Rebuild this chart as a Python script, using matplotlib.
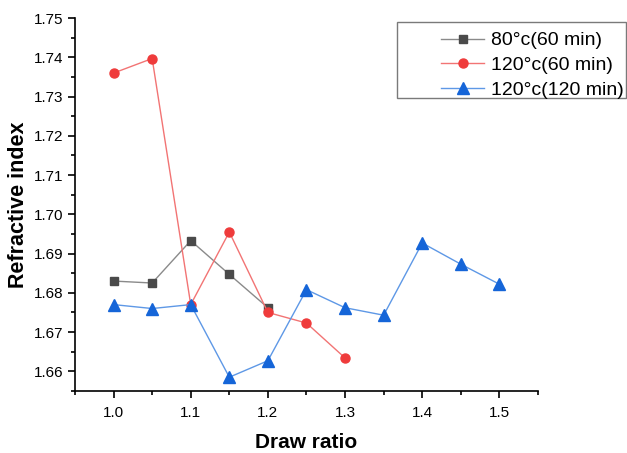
import matplotlib.pyplot as plt
from matplotlib.ticker import MultipleLocator
from matplotlib.patches import Rectangle

# Dados
ratio_80 = [1.0, 1.05, 1.1, 1.15, 1.2]
ri_80 = [1.6830, 1.6825, 1.6933, 1.6847, 1.6762]

ratio_120a = [1.0, 1.05, 1.1, 1.15, 1.2, 1.25, 1.3]
ri_120a = [1.7360, 1.7397, 1.6770, 1.6955, 1.6750, 1.6723, 1.6634]

ratio_120b = [1.0, 1.05, 1.1, 1.15, 1.2, 1.25, 1.3, 1.35, 1.4, 1.45, 1.5]
ri_120b = [1.6770, 1.6760, 1.6770, 1.6585, 1.6627, 1.6808, 1.6762, 1.6743,
           1.6927, 1.6873, 1.6822]

labels = ['80°c(60 min)', '120°c(60 min)', '120°c(120 min)']
x_ticks = [1.0, 1.1, 1.2, 1.3, 1.4, 1.5]
y_ticks = [1.66, 1.67, 1.68, 1.69, 1.70, 1.71, 1.72, 1.73, 1.74, 1.75]

plt.rcParams['font.family'] = ['Liberation Sans', 'DejaVu Sans']

fig = plt.figure(figsize=(6.27, 4.53), dpi=100)
ax = fig.add_axes([0.1196, 0.137, 0.7384, 0.823])

ax.plot(ratio_80, ri_80, color='#8a8a8a', lw=1, marker='s', ms=6,
        mfc='#4a4a4a', mec='#4a4a4a', label=labels[0])
ax.plot(ratio_120a, ri_120a, color='#f27474', lw=1, marker='o', ms=6.5,
        mfc='#ef3b3b', mec='#ef3b3b', label=labels[1])
ax.plot(ratio_120b, ri_120b, color='#5e98e6', lw=1, marker='^', ms=8,
        mfc='#1565d8', mec='#1565d8', label=labels[2])

ax.set_xlim(0.95, 1.55)
ax.set_ylim(1.655, 1.75)
ax.xaxis.set_minor_locator(MultipleLocator(0.05))
ax.yaxis.set_minor_locator(MultipleLocator(0.005))
ax.set_yticks(y_ticks)
ax.set_yticklabels(['%.2f' % v for v in y_ticks])
ax.set_xticks(x_ticks)
ax.set_xticklabels(['%.1f' % v for v in x_ticks])

for s in ['top', 'right']:
    ax.spines[s].set_visible(False)
for s in ['left', 'bottom']:
    ax.spines[s].set_linewidth(1.2)
ax.tick_params(which='major', direction='out', length=5, width=1.2, labelsize=11)
ax.tick_params(which='minor', direction='out', length=3, width=1.2)
ax.tick_params(axis='x', pad=6)

ax.set_xlabel('Draw ratio', fontsize=15, fontweight='bold', labelpad=9)
ax.set_ylabel('Refractive index', fontsize=15.5, fontweight='bold', labelpad=3)

# legenda sem moldura + moldura desenhada à parte
leg = fig.legend(loc='upper left', bbox_to_anchor=(0.704, 0.93), fontsize=14,
                 frameon=False, handlelength=2.2, borderpad=0, borderaxespad=0,
                 labelspacing=0.36, handletextpad=0.35)
fig.patches.append(Rectangle((397 / 627, 1 - 98 / 453), 229 / 627, 76 / 453,
                             transform=fig.transFigure, fill=False,
                             edgecolor='#7a7a7a', lw=1.0))

plt.savefig('out.png', dpi=100)
